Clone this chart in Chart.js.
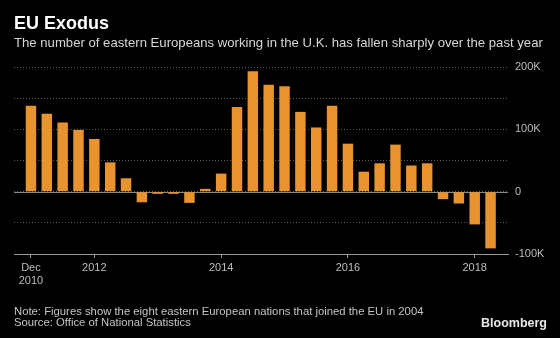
<!DOCTYPE html>
<html>
<head>
<meta charset="utf-8">
<script src="https://cdn.jsdelivr.net/npm/chart.js@4"></script>
<style>
  body { margin: 0; background: #000; }
  #wrap { position: relative; width: 560px; height: 338px; overflow: hidden; font-family: "Liberation Sans", Arial, sans-serif; }
  #wrap canvas { position: absolute; left: 0; top: 0; }
  .t { position: absolute; line-height: 1; white-space: nowrap; }
  #title { left: 14px; top: 14px; font-size: 18px; font-weight: bold; color: #fff; }
  #subtitle { left: 14px; top: 35.5px; font-size: 13.15px; color: #d6d6d6; }
  #note { left: 14px; top: 305.5px; font-size: 11.3px; color: #c4c4c4; }
  #source { left: 14px; top: 317px; font-size: 11.3px; color: #c4c4c4; }
  #brand { right: 13px; top: 317px; font-size: 12.5px; font-weight: bold; color: #e8e8e8; }
</style>
</head>
<body>
<div id="wrap">
  <canvas id="chart" width="560" height="338"></canvas>
  <div class="t" id="title">EU Exodus</div>
  <div class="t" id="subtitle">The number of eastern Europeans working in the U.K. has fallen sharply over the past year</div>
  <div class="t" id="note">Note: Figures show the eight eastern European nations that joined the EU in 2004</div>
  <div class="t" id="source">Source: Office of National Statistics</div>
  <div class="t" id="brand">Bloomberg</div>
</div>
<script>
// quarterly change in workers from the 8 eastern European nations
const quarters = [
  'Dec 2010', 'Mar 2011', 'Jun 2011', 'Sep 2011', 'Dec 2011', 'Mar 2012', 'Jun 2012', 'Sep 2012',
  'Dec 2012', 'Mar 2013', 'Jun 2013', 'Sep 2013', 'Dec 2013', 'Mar 2014', 'Jun 2014', 'Sep 2014',
  'Dec 2014', 'Mar 2015', 'Jun 2015', 'Sep 2015', 'Dec 2015', 'Mar 2016', 'Jun 2016', 'Sep 2016',
  'Dec 2016', 'Mar 2017', 'Jun 2017', 'Sep 2017', 'Dec 2017', 'Mar 2018'
];
const changes = [
  138000, 125000, 111000, 99000, 84500, 47000, 21500, -17000,
  -3500, -3500, -18000, 4500, 29000, 136000, 193000, 171500,
  169000, 128000, 103000, 138000, 77000, 32000, 45500, 75500,
  42000, 45500, -12000, -19000, -52500, -91000
];

// x axis ticks
const tickQuarters = ['Dec 2010', 'Dec 2011', 'Dec 2013', 'Dec 2015', 'Dec 2017'];
const tickLabels = [['Dec', '2010'], '2012', '2014', '2016', '2018'];

// y axis: gridlines every 50K, labels every 100K
const yGrid = [-100000, -50000, 0, 50000, 100000, 150000, 200000];
const yLabelled = [-100000, 0, 100000, 200000];

const barColor = '#e8932d';
const tickFont = { family: '"Liberation Sans", Arial, sans-serif', size: 11 };

// solid line at zero
const zeroLine = {
  id: 'zeroLine',
  beforeDatasetsDraw(chart) {
    const { ctx, chartArea, scales } = chart;
    const y = Math.round(scales.y.getPixelForValue(0)) + 0.5;
    ctx.save();
    ctx.strokeStyle = '#8a8a8a';
    ctx.lineWidth = 1;
    ctx.beginPath();
    ctx.moveTo(chartArea.left, y);
    ctx.lineTo(chartArea.right, y);
    ctx.stroke();
    ctx.restore();
  }
};

new Chart(document.getElementById('chart'), {
  type: 'bar',
  data: {
    datasets: [{
      data: changes.map((v, i) => ({ x: i, y: v })),
      backgroundColor: barColor,
      barPercentage: 0.66,
      categoryPercentage: 1
    }]
  },
  options: {
    responsive: false,
    animation: false,
    devicePixelRatio: 1,
    layout: { padding: { left: 14, top: 67, right: 0, bottom: 0 } },
    plugins: { legend: { display: false }, tooltip: { enabled: false } },
    scales: {
      x: {
        type: 'linear',
        offset: false,
        min: -1.07,
        max: 30.1,
        afterBuildTicks: s => { s.ticks = tickQuarters.map(q => ({ value: quarters.indexOf(q) })); },
        afterFit: s => { s.height = 84; },
        grid: { offset: false, drawOnChartArea: false, drawTicks: true, tickLength: 4, color: '#9a9a9a' },
        border: { display: true, color: '#9a9a9a', width: 1 },
        ticks: {
          padding: 3,
          color: '#bdbdbd',
          font: tickFont,
          maxRotation: 0,
          autoSkip: false,
          callback: (v, i) => tickLabels[i]
        }
      },
      y: {
        position: 'right',
        min: -100000,
        max: 200000,
        afterBuildTicks: s => { s.ticks = yGrid.map(v => ({ value: v })); },
        afterFit: s => { s.width = 52; },
        grid: { color: '#5e5e5e', drawTicks: false, lineWidth: 1 },
        border: { display: false, dash: [1, 2] },
        ticks: {
          padding: 7,
          color: '#bdbdbd',
          font: tickFont,
          autoSkip: false,
          callback: v => !yLabelled.includes(v) ? '' : (v === 0 ? '0' : (v / 1000) + 'K')
        }
      }
    }
  },
  plugins: [zeroLine]
});
</script>
</body>
</html>
